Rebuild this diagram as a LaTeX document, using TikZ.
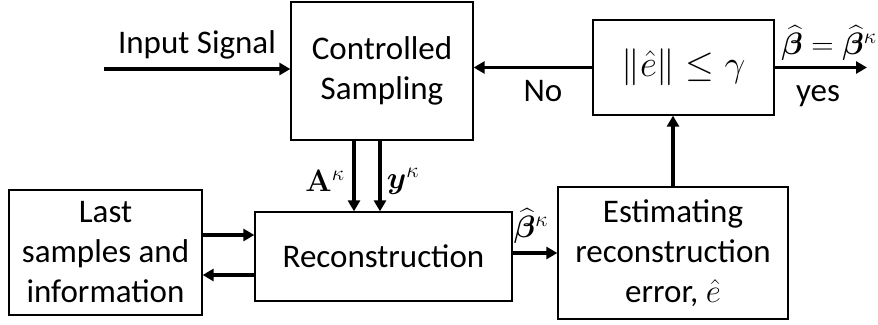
\RequirePackage{fix-cm}
\documentclass[tikz,border=0pt]{standalone}
\usepackage{amsmath,bm}
\usepackage[no-math]{fontspec}
\setmainfont{Carlito}
\usetikzlibrary{arrows.meta}

\begin{document}
\begin{tikzpicture}[x=1pt,y=-1pt,
  box/.style={draw, line width=1.3pt, align=center, inner sep=0pt,
              font=\fontsize{33}{40}\selectfont},
  flow/.style={line width=3.5pt, -{Triangle[length=11pt,width=12pt]}},
  lbl/.style={inner sep=0pt, font=\fontsize{33}{40}\selectfont},
  mlbl/.style={inner sep=0pt, font=\fontsize{31}{36}\selectfont}]
\useasboundingbox (0,0) rectangle (878,324);

% blocks
\node[box, minimum width=182pt, minimum height=138pt] (cs)   at (382,71)    {Controlled\\Sampling};
\node[box, minimum width=181pt, minimum height=95pt, font=\fontsize{37}{42}\selectfont]
      (chk)  at (683.5,67.5) {$\|\hat e\|\le\gamma$};
\node[box, minimum width=257pt, minimum height=89pt]  (rec)  at (383.5,256.5) {Reconstruction};
\node[box, minimum width=193pt, minimum height=125pt] (last) at (105.5,252.5) {Last\\samples and\\information};
\node[box, minimum width=230pt, minimum height=132pt] (est)  at (673,253)   {Estimating\\reconstruction\\error, $\hat e$};

% free ends and arrow columns
\coordinate (in)  at (104,69);
\coordinate (out) at (867,69);
\coordinate (ax)  at (354,0);
\coordinate (yx)  at (380,0);
\coordinate (fw)  at (0,235);
\coordinate (bw)  at (0,275);

% connectors
\draw[flow] (in) -- (cs.west |- in);
\draw[flow] (chk.west) -- (cs.east |- chk.west);
\draw[flow] (chk.east) -- (out |- chk.east);
\draw[flow] (est.north) -- (est.north |- chk.south);
\draw[flow] (cs.south -| ax) -- (rec.north -| ax);
\draw[flow] (cs.south -| yx) -- (rec.north -| yx);
\draw[flow] (last.east |- fw) -- (rec.west |- fw);
\draw[flow] (rec.west |- bw) -- (last.east |- bw);
\draw[flow] (rec.east |- est.west) -- (est.west);

% labels
\node[lbl, anchor=base] (tin)  at (197,53)  {Input Signal};
\node[lbl, anchor=base] (tno)  at (543,101) {No};
\node[lbl, anchor=base] (tyes) at (818,101) {yes};
\node[mlbl] (ta)   at (325,181) {$\mathbf{A}^{\kappa}$};
\node[mlbl] (ty)   at (403,181) {$\bm{y}^{\kappa}$};
\node[mlbl] (tb)   at (531,226) {$\widehat{\bm{\beta}}^{\kappa}$};
\node[mlbl] (tbb)  at (829,43)  {$\widehat{\bm{\beta}}=\widehat{\bm{\beta}}^{\kappa}$};
\end{tikzpicture}
\end{document}
